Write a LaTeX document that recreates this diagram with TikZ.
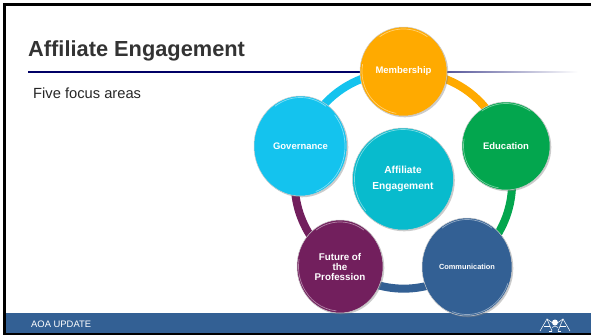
\documentclass[tikz,border=0pt]{standalone}
\usepackage{fontspec}
\setmainfont{Liberation Sans}
\usepackage{xcolor}
\usetikzlibrary{shapes.geometric,shadows,backgrounds}
\definecolor{barblue}{HTML}{336094}
\definecolor{rulenavy}{HTML}{000066}
\definecolor{titlegray}{HTML}{333333}
\definecolor{memberorange}{HTML}{FFAA00}
\definecolor{edugreen}{HTML}{03A64E}
\definecolor{commblue}{HTML}{336094}
\definecolor{futurepurple}{HTML}{721F5D}
\definecolor{govcyan}{HTML}{14C3EE}
\definecolor{centerteal}{HTML}{08BBCD}
\tikzset{
  focus/.style n args={3}{ellipse,inner sep=0pt,minimum width=#1,minimum height=#2,
    fill=#3,draw=gray!40,line width=0.5pt,text=white,align=center,
    font=\bfseries\fontsize{9.5}{11}\selectfont,
    drop shadow={shadow xshift=1.3pt,shadow yshift=-1.3pt,opacity=0.4}},
  ringarc/.style={line width=8pt,#1,bend left=36}
}
\begin{document}
\begin{tikzpicture}[x=1pt,y=-1pt]
\useasboundingbox (0,0) rectangle (591,335);

% Frame and footer
\fill [barblue] (6,313) rectangle (591,333);
\fill [black] (3,3) rectangle (591,6);
\fill [black] (3,3) rectangle (6,335);
\fill [black] (3,333) rectangle (591,335);

% Title
\node (title) [anchor=base west,inner sep=0pt,text=titlegray,font=\bfseries\fontsize{21.8}{26}\selectfont] at (28,56) {Affiliate Engagement};
\node (subtitle) [anchor=base west,inner sep=0pt,text=black!85,font=\fontsize{14.7}{18}\selectfont] at (33,98) {Five focus areas};
\node (footer) [anchor=base west,inner sep=0pt,text=white,font=\fontsize{9.4}{11}\selectfont] at (31,327) {AOA UPDATE};

% Title rule
\fill [rulenavy] (28,71.3) rectangle (380,72.9);
\shade [left color=rulenavy,right color=white] (380,71.3) rectangle (578,72.9);

% Circles
\node (membership) [focus={87pt}{89pt}{memberorange}] at (403.5,71.5) {Membership};
\node (education) [focus={88pt}{88pt}{edugreen}] at (506,146) {Education};
\node (communication) [focus={90pt}{98pt}{commblue},font=\bfseries\fontsize{7.4}{9}\selectfont] at (467,267) {Communication};
\node (future) [focus={86pt}{93pt}{futurepurple},font=\bfseries\fontsize{9.8}{10}\selectfont] at (340,266.5) {Future of\\the\\Profession};
\node (governance) [focus={93pt}{100pt}{govcyan}] at (300.5,146) {Governance};
\node (affiliate) [focus={101pt}{102pt}{centerteal},font=\bfseries\fontsize{10.2}{16}\selectfont] at (403,179) {Affiliate\\Engagement};

% Rim highlights
\foreach \rimnode/\rx/\ry/\rimcol/\rimfrom/\rimto in {
  membership/42/43/memberorange/100/190, education/43/43/edugreen/100/190,
  communication/44/48/commblue/20/110, future/42/45/futurepurple/95/190,
  governance/45/49/govcyan/-40/70, affiliate/49/50/centerteal/140/250} {
  \draw [\rimcol!55!white,line width=0.7pt] (\rimnode) ++(\rimfrom:\rx-0.5 and \ry-0.5) arc [start angle=\rimfrom,end angle=\rimto,x radius=\rx-0.5,y radius=\ry-0.5];
  \draw [\rimcol!55!white,line width=0.7pt] (\rimnode) ++(235:\rx-0.5 and \ry-0.5) arc [start angle=235,end angle=305,x radius=\rx-0.5,y radius=\ry-0.5];
}

% Ring
\begin{scope}[on background layer]
\draw [ringarc=memberorange] (membership.center) to (education.center);
\draw [ringarc=edugreen] (education.center) to (communication.center);
\draw [ringarc=commblue] (communication.center) to (future.center);
\draw [ringarc=futurepurple] (future.center) to (governance.center);
\draw [ringarc=govcyan] (governance.center) to (membership.center);
\end{scope}

% Logo
\begin{scope}[white,line width=0.55pt,shift={(555,324.5)}]
\draw (-15,6.5) -- (-8,-5.5) -- (-3,6.5);
\draw (15,6.5) -- (8,-5.5) -- (3,6.5);
\draw (-8,-5.5) -- (-3,-2) (8,-5.5) -- (3,-2);
\draw (-3,6.5) -- (-6,6.5) (3,6.5) -- (6,6.5);
\draw (-11,1.5) -- (-5,1.5) (11,1.5) -- (5,1.5);
\fill (0,-2) circle [radius=3pt];
\draw (-3,3) .. controls (-1,1) and (1,1) .. (3,3);
\end{scope}
\end{tikzpicture}
\end{document}
